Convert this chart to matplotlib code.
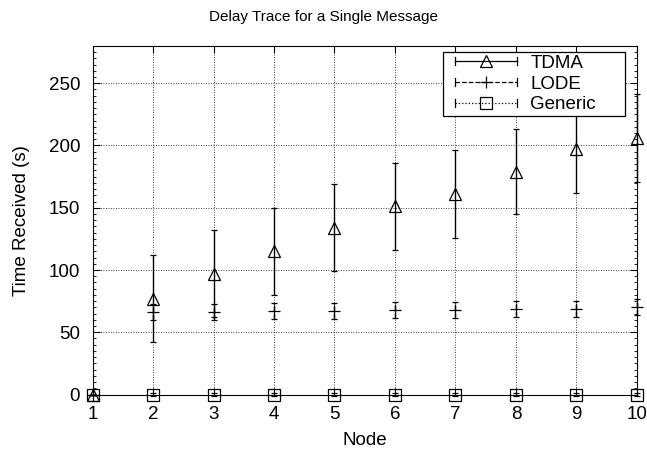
import matplotlib
matplotlib.use('Agg')
import matplotlib.pyplot as plt
from matplotlib.lines import Line2D
from matplotlib.legend_handler import HandlerLine2D
from matplotlib.ticker import MultipleLocator

plt.rcParams['font.family'] = ['Liberation Sans', 'DejaVu Sans']

nodes = [1, 2, 3, 4, 5, 6, 7, 8, 9, 10]
tdma = [0, 77, 97, 115, 134, 151, 161, 179, 197, 206]
tdma_err = [0, 35, 35, 35, 35, 35, 35, 34, 35, 35]
lode = [0, 66, 66, 67, 67, 68, 68, 69, 69, 70]
lode_err = [0, 6.5, 6.5, 6.5, 6.5, 6.5, 6.5, 6.5, 6.5, 6.5]
generic = [0, 0, 0, 0, 0, 0, 0, 0, 0, 0]
generic_err = [0, 1, 1, 1, 1, 1, 1, 1, 1, 1]
labels = ['TDMA', 'LODE', 'Generic     ']

FS = 13.5


class CapHandler(HandlerLine2D):
    # gnuplot style key sample: line with end caps and the marker in the middle
    def create_artists(self, legend, orig, xd, yd, width, height, fontsize, trans):
        arts = super().create_artists(legend, orig, xd, yd, width, height, fontsize, trans)
        y = (height - yd) / 2.0
        c = height * 0.28
        for x in (-xd, -xd + width):
            cap = Line2D([x, x], [y - c, y + c], color='black', lw=0.9, transform=trans)
            arts.append(cap)
        return arts


fig = plt.figure(figsize=(6.47, 4.54), dpi=100)
ax = fig.add_axes([0.143, 0.131, 0.8415, 0.768])

series = [
    (tdma, tdma_err, '^', '-'),
    (lode, lode_err, '+', '--'),
    (generic, generic_err, 's', ':'),
]
handles = []
for vals, err, mk, ls in series:
    eb = ax.errorbar(nodes, vals, yerr=err, fmt=mk, color='black', mfc='none', mec='black',
                     ms=8.5, mew=0.9, ecolor='black', elinewidth=1.0,
                     capsize=2.3, capthick=0.9, zorder=3, clip_on=False)
    eb[2][0].set_linestyle(ls)
    handles.append(Line2D([], [], color='black', lw=0.9, ls=ls, marker=mk, mfc='none',
                          mec='black', ms=8.5, mew=0.9))

ax.set_xlim(1, 10)
ax.set_ylim(0, 280)
ax.set_xticks(nodes)
ax.yaxis.set_major_locator(MultipleLocator(50))
ax.yaxis.set_minor_locator(MultipleLocator(5))
ax.tick_params(which='both', direction='in', top=True, right=True, labelsize=FS)
ax.tick_params(axis='x', pad=8.5)
ax.tick_params(axis='y', pad=9)
ax.tick_params(which='major', length=5)
ax.tick_params(which='minor', length=2.5)
ax.grid(True, which='major', color='black', linestyle=(0, (1, 2)), linewidth=0.6)

ax.set_xlabel('Node', fontsize=FS, labelpad=6)
ax.set_ylabel('Time Received (s)', fontsize=FS, labelpad=13)
# gnuplot centres the title on the whole canvas, not the plot area
ax.set_title('Delay Trace for a Single Message', fontsize=11, pad=18, x=0.4242)

leg = ax.legend(handles, labels, loc='upper right',
                bbox_to_anchor=(0.978, 0.983), borderaxespad=0, fontsize=FS,
                handlelength=3.8, handletextpad=0.7, labelspacing=0.2,
                borderpad=0.15, fancybox=False, framealpha=1, edgecolor='black',
                handler_map={Line2D: CapHandler(numpoints=1, xpad=0.5)})
leg.get_frame().set_linewidth(0.9)

fig.savefig('out.png', dpi=100)
